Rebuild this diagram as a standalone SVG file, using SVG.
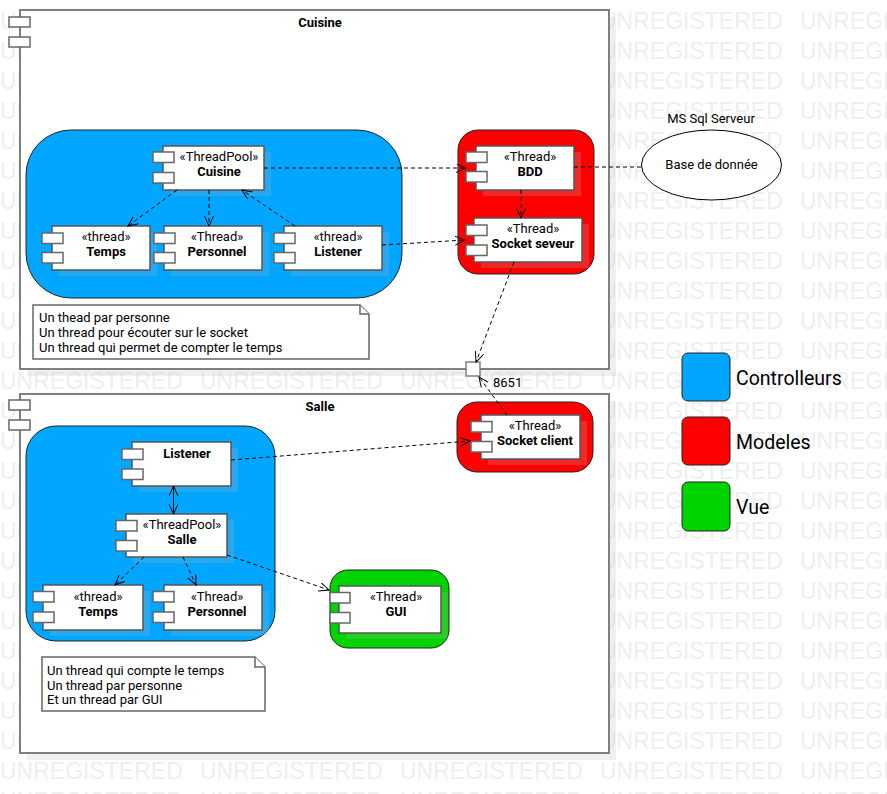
<svg xmlns="http://www.w3.org/2000/svg" width="887" height="794" viewBox="0 0 887 794">
<style>
text{font-family:Roboto,"Liberation Sans",sans-serif;font-size:13px;fill:#000}
.wm{font-family:"Liberation Sans",Arial,sans-serif;font-size:23px;fill:#eeeeee}
.b{font-weight:bold}
.m{text-anchor:middle}
.frame{fill:#fff;stroke:#7f7f7f;stroke-width:2}
.fshadow{fill:#b4b4b4;opacity:.2}
.shadow{fill:#b4b4b4;opacity:.22}
.comp{fill:#fff;stroke:#555;stroke-width:1.5}
.icon{fill:#fff;stroke:#666;stroke-width:1.5}
.ctrl{fill:#00a6ff;stroke:#222;stroke-width:1}
.model{fill:#ff0000;stroke:#222;stroke-width:1}
.view{fill:#00d400;stroke:#222;stroke-width:1}
.dep{fill:none;stroke:#000;stroke-width:1;stroke-dasharray:4 3}
.note{fill:#fff;stroke:#666;stroke-width:1.5}
.leg{font-size:19.5px}
</style>
<defs>
<pattern id="wmp" patternUnits="userSpaceOnUse" x="0" y="0" width="200" height="30">
<text class="wm" x="0" y="29">UNREGISTERED</text>
</pattern>
<marker id="arr" markerUnits="userSpaceOnUse" markerWidth="12" markerHeight="10" refX="10" refY="4.5" orient="auto-start-reverse" viewBox="0 0 12 10">
<path d="M0,0 L10,4.5 L0,9" fill="none" stroke="#000" stroke-width="1"/>
</marker>
</defs>
<rect x="0" y="0" width="887" height="794" fill="#fff"/>
<rect x="0" y="0" width="887" height="794" fill="url(#wmp)"/>

<g id="frame-cuisine">
<rect class="fshadow" x="27" y="17" width="589" height="359"/>
<rect class="frame" x="20" y="10" width="589" height="359"/>
<rect class="icon" x="9" y="17" width="21" height="10"/>
<rect class="icon" x="9" y="37" width="21" height="10"/>
<text class="b m" x="320" y="27">Cuisine</text>
</g>
<g id="frame-salle">
<rect class="fshadow" x="27" y="401" width="589" height="359"/>
<rect class="frame" x="20" y="394" width="589" height="359"/>
<rect class="icon" x="9" y="400" width="21" height="10"/>
<rect class="icon" x="9" y="420" width="21" height="10"/>
<text class="b m" x="320" y="411">Salle</text>
</g>

<g id="zone-ctrl-cuisine"><rect class="ctrl" x="26" y="130" width="376" height="168" rx="45"/></g>
<g id="zone-model-cuisine"><rect class="model" x="458" y="130" width="136" height="144" rx="20"/></g>
<g id="zone-ctrl-salle"><rect class="ctrl" x="26" y="426" width="249" height="215" rx="30"/></g>
<g id="zone-model-salle"><rect class="model" x="457" y="402" width="136" height="70" rx="20"/></g>
<g id="zone-view-salle"><rect class="view" x="330" y="570" width="119" height="78" rx="18"/></g>

<g id="cuisine-pool">
<rect class="shadow" x="170" y="152" width="101" height="44"/>
<rect class="comp" x="163" y="146" width="101" height="44"/>
<rect class="icon" x="153" y="152" width="21" height="10.5"/>
<rect class="icon" x="153" y="172.5" width="21" height="10.5"/>
<text class="m" x="219" y="161">«ThreadPool»</text>
<text class="b m" x="219" y="176">Cuisine</text>
</g>
<g id="cuisine-temps">
<rect class="shadow" x="59" y="232" width="98" height="44"/>
<rect class="comp" x="52" y="226" width="98" height="44"/>
<rect class="icon" x="42" y="233" width="21" height="10.5"/>
<rect class="icon" x="42" y="252.5" width="21" height="10.5"/>
<text class="m" x="106" y="241">«thread»</text>
<text class="b m" x="106" y="256">Temps</text>
</g>
<g id="cuisine-personnel">
<rect class="shadow" x="171" y="232" width="98" height="44"/>
<rect class="comp" x="164" y="226" width="98" height="44"/>
<rect class="icon" x="154" y="233" width="21" height="10.5"/>
<rect class="icon" x="154" y="252.5" width="21" height="10.5"/>
<text class="m" x="217" y="241">«Thread»</text>
<text class="b m" x="217" y="256">Personnel</text>
</g>
<g id="cuisine-listener">
<rect class="shadow" x="291" y="232" width="98" height="44"/>
<rect class="comp" x="284" y="226" width="98" height="44"/>
<rect class="icon" x="274" y="233" width="21" height="10.5"/>
<rect class="icon" x="274" y="252.5" width="21" height="10.5"/>
<text class="m" x="338" y="241">«thread»</text>
<text class="b m" x="338" y="256">Listener</text>
</g>
<g id="bdd">
<rect class="shadow" x="483" y="152" width="98" height="44"/>
<rect class="comp" x="476" y="146" width="98" height="44"/>
<rect class="icon" x="466" y="152" width="21" height="10.5"/>
<rect class="icon" x="466" y="171.5" width="21" height="10.5"/>
<text class="m" x="530" y="161">«Thread»</text>
<text class="b m" x="530" y="176">BDD</text>
</g>
<g id="socket-serveur">
<rect class="shadow" x="481" y="224" width="108" height="44"/>
<rect class="comp" x="474" y="218" width="108" height="44"/>
<rect class="icon" x="466" y="225" width="21" height="10.5"/>
<rect class="icon" x="466" y="245" width="21" height="10.5"/>
<text class="m" x="533" y="233">«Thread»</text>
<text class="b m" x="533" y="248">Socket seveur</text>
</g>

<g id="salle-listener">
<rect class="shadow" x="139" y="448" width="99" height="44"/>
<rect class="comp" x="132" y="442" width="99" height="44"/>
<rect class="icon" x="122" y="449" width="21" height="10.5"/>
<rect class="icon" x="122" y="469" width="21" height="10.5"/>
<text class="b m" x="187" y="458">Listener</text>
</g>
<g id="salle-pool">
<rect class="shadow" x="133" y="520" width="101" height="43"/>
<rect class="comp" x="126" y="514" width="101" height="43"/>
<rect class="icon" x="116" y="520.5" width="21" height="10.5"/>
<rect class="icon" x="116" y="540.5" width="21" height="10.5"/>
<text class="m" x="182" y="529">«ThreadPool»</text>
<text class="b m" x="182" y="544">Salle</text>
</g>
<g id="salle-temps">
<rect class="shadow" x="50" y="591" width="100" height="45"/>
<rect class="comp" x="43" y="585" width="100" height="45"/>
<rect class="icon" x="33" y="591.5" width="21" height="10.5"/>
<rect class="icon" x="33" y="612" width="21" height="10.5"/>
<text class="m" x="98" y="601">«thread»</text>
<text class="b m" x="98" y="616">Temps</text>
</g>
<g id="salle-personnel">
<rect class="shadow" x="171" y="591" width="98" height="45"/>
<rect class="comp" x="164" y="585" width="98" height="45"/>
<rect class="icon" x="153" y="591.5" width="21" height="10.5"/>
<rect class="icon" x="153" y="612" width="21" height="10.5"/>
<text class="m" x="217" y="601">«Thread»</text>
<text class="b m" x="217" y="616">Personnel</text>
</g>
<g id="socket-client">
<rect class="shadow" x="488" y="421" width="99" height="44"/>
<rect class="comp" x="481" y="415" width="99" height="44"/>
<rect class="icon" x="471" y="421.5" width="21" height="10.5"/>
<rect class="icon" x="471" y="441.5" width="21" height="10.5"/>
<text class="m" x="535" y="430">«Thread»</text>
<text class="b m" x="535" y="445">Socket client</text>
</g>
<g id="gui">
<rect class="shadow" x="346" y="592" width="102" height="47"/>
<rect class="comp" x="339" y="586" width="102" height="47"/>
<rect class="icon" x="330" y="592.5" width="20" height="10.5"/>
<rect class="icon" x="330" y="612.5" width="20" height="10.5"/>
<text class="m" x="396" y="601">«Thread»</text>
<text class="b m" x="396" y="615.5">GUI</text>
</g>

<g id="port-8651">
<rect x="466" y="362" width="14" height="14" fill="#fff" stroke="#7f7f7f" stroke-width="1.5"/>
<text x="493" y="387">8651</text>
</g>

<g id="base-de-donnee">
<ellipse cx="711.5" cy="165" rx="70" ry="35" fill="#fff" stroke="#000" stroke-width="1"/>
<text class="m" x="711" y="123">MS Sql Serveur</text>
<text class="m" x="711.5" y="169">Base de donnée</text>
</g>

<g id="note-cuisine">
<path class="note" d="M33,305 L360,305 L369,314 L369,359 L33,359 Z"/>
<path class="note" d="M360,305 L360,314 L369,314" fill="none"/>
<text x="39" y="322">Un thead par personne</text>
<text x="39" y="337">Un thread pour écouter sur le socket</text>
<text x="39" y="352">Un thread qui permet de compter le temps</text>
</g>
<g id="note-salle">
<path class="note" d="M42,657 L255,657 L265,667 L265,711 L42,711 Z"/>
<path class="note" d="M255,657 L255,667 L265,667" fill="none"/>
<text x="47" y="674.5">Un thread qui compte le temps</text>
<text x="47" y="689.5">Un thread par personne</text>
<text x="47" y="704">Et un thread par GUI</text>
</g>

<g id="connectors">
<path class="dep" d="M177,190 L128,226" marker-end="url(#arr)"/>
<path class="dep" d="M209,190 L209,226" marker-end="url(#arr)"/>
<path class="dep" d="M295,226 L242,190" marker-end="url(#arr)"/>
<path class="dep" d="M264,168 L466,168" marker-end="url(#arr)"/>
<path class="dep" d="M382,245 L465,240" marker-end="url(#arr)"/>
<path class="dep" d="M521,190 L521,218" marker-end="url(#arr)"/>
<path class="dep" d="M574,167 L641.5,167"/>
<path class="dep" d="M514,262 L476,362" marker-end="url(#arr)"/>
<path class="dep" d="M507,415 L479,377" marker-end="url(#arr)"/>
<path class="dep" d="M231,460 L470,441" marker-end="url(#arr)"/>
<path class="dep" d="M173.5,486 L173.5,514" marker-end="url(#arr)"/>
<path class="dep" d="M173.5,514 L173.5,486" marker-end="url(#arr)"/>
<path class="dep" d="M144,557 L115,585" marker-end="url(#arr)"/>
<path class="dep" d="M183,557 L196,585" marker-end="url(#arr)"/>
<path class="dep" d="M227,555 L329,590" marker-end="url(#arr)"/>
</g>

<g id="legend">
<rect class="ctrl" x="682" y="353" width="48" height="48" rx="6"/>
<rect class="model" x="682" y="417" width="48" height="48" rx="6"/>
<rect class="view" x="682" y="482" width="48" height="49" rx="6"/>
<text class="leg" x="736" y="385">Controlleurs</text>
<text class="leg" x="736" y="449">Modeles</text>
<text class="leg" x="736" y="514">Vue</text>
</g>
</svg>
